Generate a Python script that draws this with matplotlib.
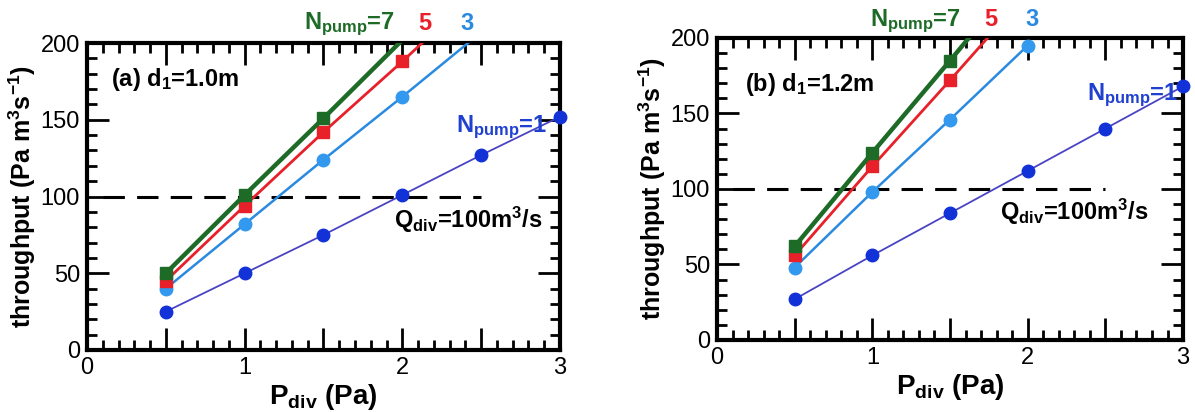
import numpy as np
import matplotlib
matplotlib.use('Agg')
import matplotlib.pyplot as plt
from matplotlib.ticker import MultipleLocator, FuncFormatter

plt.rcParams['font.family'] = ['Liberation Sans', 'DejaVu Sans']
plt.rcParams['mathtext.default'] = 'regular'

# pressure points (Pa)
p_div = [0.5, 1.0, 1.5, 2.0, 2.5, 3.0]

# (a) d1 = 1.0 m
a_n1 = [25, 50, 75, 101, 127, 152]
a_n3 = [40, 82, 124, 165, 207]
a_n5 = [45, 94, 142, 188, 236]
a_n7 = [50, 101, 151, 202]

# (b) d1 = 1.2 m
b_n1 = [27, 56, 84, 112, 140, 168]
b_n3 = [48, 98, 146, 195]
b_n5 = [56, 115, 172, 230]
b_n7 = [62, 124, 185, 247]

q_div = 100
q_range = [0.1, 2.5]

green = '#1d6b27'
red = '#e8202a'
lblue = '#2a8ae0'
dblue = '#1232d8'
pline = '#4a44c4'


def draw(ax, n1, n3, n5, n7, tag, lab):
    def vis(y):
        return [i for i, v in enumerate(y) if v <= 200]
    ax.plot(p_div[:len(n1)], n1, color=pline, lw=1.3, marker='o', ms=9,
            mfc=dblue, mec=dblue, markevery=vis(n1), clip_on=False, zorder=3)
    ax.plot(p_div[:len(n3)], n3, color=lblue, lw=1.8, marker='o', ms=9,
            mfc='#3399ee', mec='#3399ee', markevery=vis(n3), zorder=3)
    ax.plot(p_div[:len(n5)], n5, color=red, lw=2.0, marker='s', ms=9,
            markevery=vis(n5), zorder=4)
    ax.plot(p_div[:len(n7)], n7, color=green, lw=3.2, marker='s', ms=9,
            markevery=vis(n7), zorder=5)
    ax.plot(q_range, [q_div, q_div], color='black', lw=2.2, dashes=(7, 4), zorder=2)

    ax.set_xlim(0, 3)
    ax.set_ylim(0, 200)
    ax.xaxis.set_major_locator(MultipleLocator(0.5))
    ax.xaxis.set_minor_locator(MultipleLocator(0.1))
    ax.xaxis.set_major_formatter(FuncFormatter(lambda v, p: '%d' % v if abs(v - round(v)) < 1e-6 else ''))
    ax.yaxis.set_major_locator(MultipleLocator(50))
    ax.yaxis.set_minor_locator(MultipleLocator(10))
    ax.tick_params(which='both', direction='in', top=True, right=True, width=2)
    ax.tick_params(which='major', length=16, labelsize=17, pad=5)
    ax.tick_params(which='minor', length=7)
    for s in ax.spines.values():
        s.set_linewidth(3)
    ax.set_xlabel('$P_{div}$ (Pa)', fontsize=20, fontweight='bold', labelpad=2)
    ax.set_ylabel('throughput (Pa m$^{3}$s$^{-1}$)', fontsize=18, fontweight='bold', labelpad=2)
    ax.text(tag[0], tag[1], lab, fontsize=17, fontweight='bold', va='center')


fig = plt.figure(figsize=(11.95, 4.12), dpi=100)
ax1 = fig.add_axes([0.0728, 0.1505, 0.3958, 0.745])
ax2 = fig.add_axes([0.600, 0.1748, 0.390, 0.733])

draw(ax1, a_n1, a_n3, a_n5, a_n7, (0.15, 176), '(a) $d_1$=1.0m')
draw(ax2, b_n1, b_n3, b_n5, b_n7, (0.18, 169), '(b) $d_1$=1.2m')

kw = dict(fontsize=17, fontweight='bold', clip_on=False)
ax1.text(1.95, 212, '$N_{pump}$=7', color=green, ha='right', va='center', **kw)
ax1.text(2.14, 213, '5', color=red, ha='center', va='center', **kw)
ax1.text(2.41, 213, '3', color=lblue, ha='center', va='center', **kw)
ax1.text(2.92, 145, '$N_{pump}$=1', color='#2040d0', ha='right', va='center', **kw)
ax1.text(1.95, 85, '$Q_{div}$=100m$^{3}$/s', color='black', ha='left', va='center',
         fontsize=17, fontweight='bold')

ax2.text(1.57, 211, '$N_{pump}$=7', color=green, ha='right', va='center', **kw)
ax2.text(1.76, 212, '5', color=red, ha='center', va='center', **kw)
ax2.text(2.03, 212, '3', color=lblue, ha='center', va='center', **kw)
ax2.text(2.97, 162, '$N_{pump}$=1', color='#2040d0', ha='right', va='center', **kw)
ax2.text(1.82, 85, '$Q_{div}$=100m$^{3}$/s', color='black', ha='left', va='center',
         fontsize=17, fontweight='bold')

plt.savefig('out.png', dpi=100)
